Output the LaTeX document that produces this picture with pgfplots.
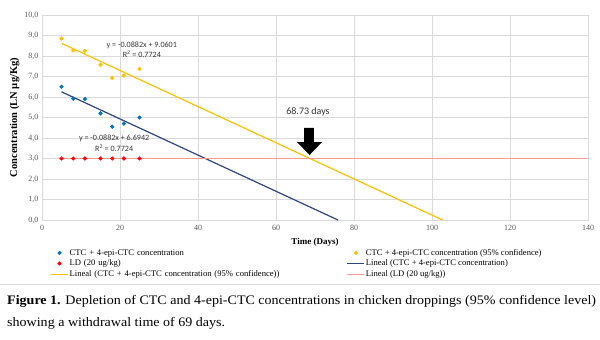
\documentclass[border=0pt]{standalone}
\usepackage{pgfplots}
\pgfplotsset{compat=1.18}
\usepackage{fontspec}
\setmainfont{Liberation Serif}
\newfontfamily\calfont{Carlito}
\newfontfamily\capfont[FakeStretch=1.08]{Liberation Serif}
\definecolor{cblue}{RGB}{0,112,192}
\definecolor{cyel}{RGB}{255,192,0}
\definecolor{cred}{RGB}{255,0,0}
\definecolor{cnavy}{RGB}{47,69,130}
\definecolor{cpink}{RGB}{255,150,150}
\definecolor{gridc}{RGB}{217,217,217}
\begin{document}
\begin{tikzpicture}[x=1pt,y=1pt]
\useasboundingbox (0,0) rectangle (600,340);
\begin{axis}[
  at={(42pt,120pt)}, anchor=south west,
  scale only axis, width=546pt, height=205pt,
  xmin=0, xmax=140, ymin=0, ymax=10,
  xtick={0,20,...,140}, ytick={0,1,...,10},
  grid=major, major grid style={gridc, line width=0.6pt},
  axis line style={gridc, line width=0.6pt},
  tick style={draw=none},
  /pgf/number format/assume math mode=true,
  ticklabel style={font=\fontsize{8}{9}\selectfont, text=black!65},
  yticklabel style={/pgf/number format/.cd, fixed, fixed zerofill, precision=1, use comma},
  xticklabel style={yshift=-2pt, /pgf/number format/.cd, fixed, precision=0},
  xlabel={\textbf{Time (Days)}},
  xlabel style={at={(axis description cs:0.5,-0.107)}, anchor=center, font=\fontsize{9}{11}\selectfont},
  ylabel={\textbf{Concentration (LN µg/Kg)}},
  ylabel style={at={(axis description cs:-0.05,0.5)}, anchor=center, rotate=0, font=\fontsize{10.5}{12}\selectfont},
  legend columns=2,
  legend cell align=left,
  legend style={at={(axis description cs:0.015,-0.135)}, anchor=north west, draw=none, fill=none,
    font=\fontsize{8.6}{9}\selectfont, row sep=0.5pt, inner sep=0pt,
    nodes={inner sep=1pt, text height=6.3pt, text depth=1.8pt},
    /tikz/column 2/.style={text width=276pt}},
  clip=false,
]
\addplot[only marks, mark=*, mark size=1.9pt, cblue]
  coordinates {(5,6.5) (8,5.92) (11,5.9) (15,5.2) (18,4.55) (21,4.7) (25,5.0)};
\addlegendentry{CTC + 4-epi-CTC concentration}
\addplot[only marks, mark=*, mark size=1.9pt, cyel]
  coordinates {(5,8.85) (8,8.27) (11,8.25) (15,7.57) (18,6.93) (21,7.05) (25,7.37)};
\addlegendentry{CTC + 4-epi-CTC concentration (95\% confidence)}
\addplot[only marks, mark=*, mark size=1.9pt, cred]
  coordinates {(5,3) (8,3) (11,3) (15,3) (18,3) (21,3) (25,3)};
\addlegendentry{LD (20 ug/kg)}
\addplot[cnavy, line width=1.2pt, no marks] coordinates {(5,6.2532) (75.89,0)};
\addlegendentry{Lineal (CTC + 4-epi-CTC concentration)}
\addplot[cyel, line width=1.2pt, no marks] coordinates {(5,8.6191) (102.72,0)};
\addlegendentry{Lineal (CTC + 4-epi-CTC concentration (95\% confidence))}
\addplot[cpink, line width=1.2pt, no marks] coordinates {(5,3) (140,3)};
\addlegendentry{Lineal (LD (20 ug/kg))}
\fill[black] (axis cs:67.2,4.49) -- (axis cs:69.7,4.49) -- (axis cs:69.7,3.80) -- (axis cs:71.8,3.80)
  -- (axis cs:68.6,3.17) -- (axis cs:65.4,3.80) -- (axis cs:67.2,3.80) -- cycle;
\node[font=\calfont\fontsize{10}{12}\selectfont, text=black!80] at (axis cs:68.2,5.27) {68.73 days};
\node[font=\calfont\fontsize{8.1}{9}\selectfont, text=black!80] at (axis cs:25.6,8.54) {y = -0.0882x + 9.0601};
\node[font=\calfont\fontsize{8.1}{9}\selectfont, text=black!80] at (axis cs:25.6,8.08) {R\textsuperscript{2} = 0.7724};
\node[font=\calfont\fontsize{8.1}{9}\selectfont, text=black!80] at (axis cs:18.5,4.0) {y = -0.0882x + 6.6942};
\node[font=\calfont\fontsize{8.1}{9}\selectfont, text=black!80] at (axis cs:18.5,3.51) {R\textsuperscript{2} = 0.7724};
\end{axis}
\draw[gridc, line width=0.7pt] (0,56) -- (600,56);
\node[anchor=west, inner sep=0pt, font=\capfont\fontsize{13}{15}\selectfont] at (7,39) {\textbf{Figure 1.} Depletion of CTC and 4-epi-CTC concentrations in chicken droppings (95\% confidence level)};
\node[anchor=west, inner sep=0pt, font=\capfont\fontsize{13}{15}\selectfont] at (7,17) {showing a withdrawal time of 69 days.};
\end{tikzpicture}
\end{document}
